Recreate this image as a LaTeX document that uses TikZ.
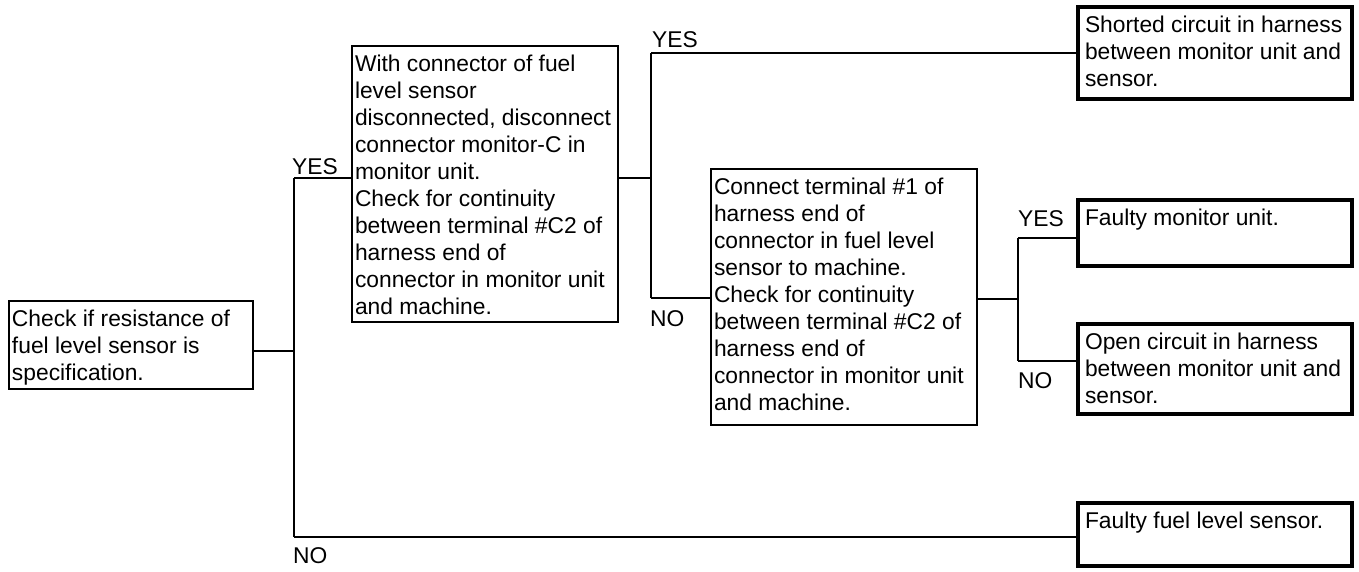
\documentclass[tikz,border=0pt]{standalone}
\usepackage{fontspec}
\setmainfont{Liberation Sans}
\usetikzlibrary{positioning}
\newcommand{\diagfont}{\fontsize{22.8pt}{27pt}\selectfont}

\begin{document}
\begin{tikzpicture}[x=1pt,y=-1pt,every node/.style={font=\diagfont},
  textsize/.style 2 args={anchor=north west,inner ysep=7pt,outer sep=0pt,
    execute at begin node={\begin{minipage}[c][#2pt][t]{#1pt}\diagfont\raggedright\strut},
    execute at end node={\end{minipage}}},
  stepbox/.style={draw,line width=1.8pt,inner xsep=3pt},
  endbox/.style={draw,line width=4pt,inner xsep=7pt},
  link/.style={line width=1.4pt},
  answer/.style={inner sep=0pt}]
\useasboundingbox (0,0) rectangle (1359,571);
% check boxes
\node[stepbox,textsize={238}{74}] (chk) at (9,301) {Check if resistance of\\fuel level sensor is\\specification.};
\node[stepbox,textsize={260}{262}] (discon) at (352,46) {With connector of fuel\\level sensor\\disconnected, disconnect\\connector monitor-C in\\monitor unit.\\Check for continuity\\between terminal \#C2 of\\harness end of\\connector in monitor unit\\and machine.};
\node[stepbox,textsize={260}{242}] (conn) at (711,169) {Connect terminal \#1 of\\harness end of\\connector in fuel level\\sensor to machine.\\Check for continuity\\between terminal \#C2 of\\harness end of\\connector in monitor unit\\and machine.};
% results
\node[endbox,textsize={260}{78}] (shorted) at (1078,7) {Shorted circuit in harness\\between monitor unit and\\sensor.};
\node[endbox,textsize={260}{52}] (faultymon) at (1078,200) {Faulty monitor unit.};
\node[endbox,textsize={260}{76}] (opencirc) at (1078,324) {Open circuit in harness\\between monitor unit and\\sensor.};
\node[endbox,textsize={260}{49}] (faultysen) at (1078,503) {Faulty fuel level sensor.};
% branch points
\coordinate (j1) at (294,351);
\coordinate (jy) at (294,178);
\coordinate (jn) at (294,537);
\coordinate (k1) at (651,178);
\coordinate (ky) at (651,53);
\coordinate (kn) at (651,298);
\coordinate (m1) at (1018,299);
\coordinate (my) at (1018,238);
\coordinate (mn) at (1018,361);
\draw[link] (chk.east |- j1) -- (j1);
\draw[link] (jy) -- (jn);
\draw[link] (jy) -- (jy -| discon.west);
\draw[line width=2pt] (jn) -- (jn -| faultysen.west);
\draw[link] (discon.east |- k1) -- (k1);
\draw[link] (ky) -- (kn);
\draw[link] (ky) -- (ky -| shorted.west);
\draw[link] (kn) -- (kn -| conn.west);
\draw[link] (conn.east |- m1) -- (m1);
\draw[link] (my) -- (mn);
\draw[link] (my) -- (my -| faultymon.west);
\draw[link] (mn) -- (mn -| opencirc.west);
% answers
\node[answer,above right=3pt and -2pt of jy] (yes1) {YES};
\node[answer,below right=10pt and -1pt of jn] (no1) {NO};
\node[answer,above right=5pt and 1pt of ky] (yes2) {YES};
\node[answer,below right=12pt and -1pt of kn] (no2) {NO};
\node[answer,above right=11pt and 0pt of my] (yes3) {YES};
\node[answer,below right=11pt and 0pt of mn] (no3) {NO};
\end{tikzpicture}
\end{document}
